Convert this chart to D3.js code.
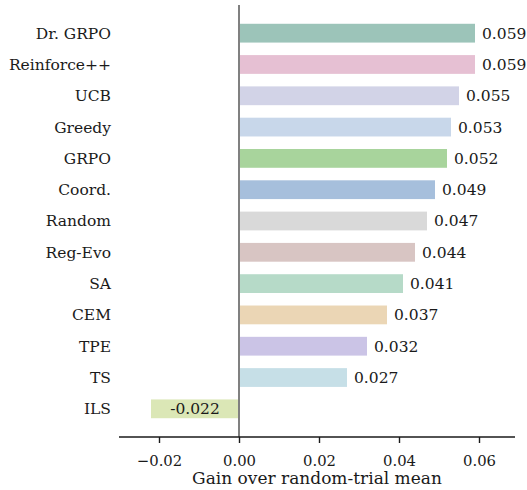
<!DOCTYPE html>
<html>
<head>
<meta charset="utf-8">
<script src="https://cdn.jsdelivr.net/npm/d3@7"></script>
<style>
	body { margin: 0; background: #fff; }
	text { font-family: "DejaVu Serif", serif; fill: #1a1a1a; }
</style>
</head>
<body>
<div id="chart"></div>
<script>

// data
var methods = ["Dr. GRPO","Reinforce++","UCB","Greedy","GRPO","Coord.","Random","Reg-Evo","SA","CEM","TPE","TS","ILS"];
var gains = [0.059,0.059,0.055,0.053,0.052,0.049,0.047,0.044,0.041,0.037,0.032,0.027,-0.022];
var colors = ["#9cc4b9","#e6c0d3","#d2d3e7","#c8d7ea","#a8d49c","#a6bfdc","#d9d9d9","#d8c5c3","#b6dac8","#ebd6b5","#cbc4e6","#c6dfe7","#dbe7b6"];
var xTicks = [-0.02,0,0.02,0.04,0.06];

var width = 527, height = 490;
var margin = { top: 5, right: 12, bottom: 53, left: 119 };

var svg = d3.select("#chart").append("svg")
	.attr("width", width)
	.attr("height", height);

// x scale: 0.02 per 80px
var xScale = d3.scaleLinear()
	.domain([-0.03, 0.069])
	.range([margin.left, width - margin.right]);

// y: index positions with padding like matplotlib margins
var yScale = d3.scaleLinear()
	.domain([-0.9, methods.length - 1 + 0.9])
	.range([margin.top, height - margin.bottom]);

var step = yScale(1) - yScale(0);
var barH = step * 0.6;

var g = svg.append("g");

// bars
g.selectAll("rect.bar")
	.data(gains).enter()
	.append("rect")
		.attr("class", "bar")
		.attr("x", function(d){ return xScale(Math.min(0, d)) })
		.attr("width", function(d){ return Math.abs(xScale(d) - xScale(0)) })
		.attr("y", function(d,i){ return yScale(i) - barH/2 })
		.attr("height", barH)
		.style("fill", function(d,i){ return colors[i] });

// value labels
g.selectAll("text.val")
	.data(gains).enter()
	.append("text")
		.attr("class", "val")
		.attr("x", function(d){ return d >= 0 ? xScale(d) + 7 : (xScale(d) + xScale(0)) / 2 })
		.attr("y", function(d,i){ return yScale(i) })
		.attr("dy", "0.35em")
		.style("text-anchor", function(d){ return d >= 0 ? "start" : "middle" })
		.style("font-size", "15.5px")
		.text(function(d){ return d.toFixed(3) });

// category labels
g.selectAll("text.cat")
	.data(methods).enter()
	.append("text")
		.attr("class", "cat")
		.attr("x", 111)
		.attr("y", function(d,i){ return yScale(i) })
		.attr("dy", "0.35em")
		.style("text-anchor", "end")
		.style("font-size", "15.5px")
		.text(function(d){ return d });

// zero line
g.append("line")
	.attr("x1", xScale(0)).attr("x2", xScale(0))
	.attr("y1", margin.top).attr("y2", height - margin.bottom)
	.style("stroke", "#808080")
	.style("stroke-width", 2);

// x axis
var xAxis = d3.axisBottom(xScale)
	.tickValues(xTicks)
	.tickSize(6)
	.tickPadding(12)
	.tickFormat(function(d){ return d3.format(".2f")(d).replace("-", "\u2212") });

var ax = svg.append("g")
	.attr("class", "x axis")
	.attr("transform", "translate(0," + (height - margin.bottom) + ")")
	.call(xAxis);

ax.select(".domain").attr("d", "M" + margin.left + ",0H" + (width - margin.right))
	.style("stroke", "#1a1a1a").style("stroke-width", 1.6);
ax.selectAll(".tick line").style("stroke", "#1a1a1a").style("stroke-width", 1.4);
ax.selectAll(".tick text")
	.style("font-family", "DejaVu Serif")
	.style("font-size", "14.8px")
	.style("fill", "#1a1a1a");

// x axis label
svg.append("text")
	.attr("x", (xScale(-0.03) + xScale(0.069)) / 2)
	.attr("y", 484)
	.style("text-anchor", "middle")
	.style("font-size", "17px")
	.text("Gain over random-trial mean");

</script>
</body>
</html>
